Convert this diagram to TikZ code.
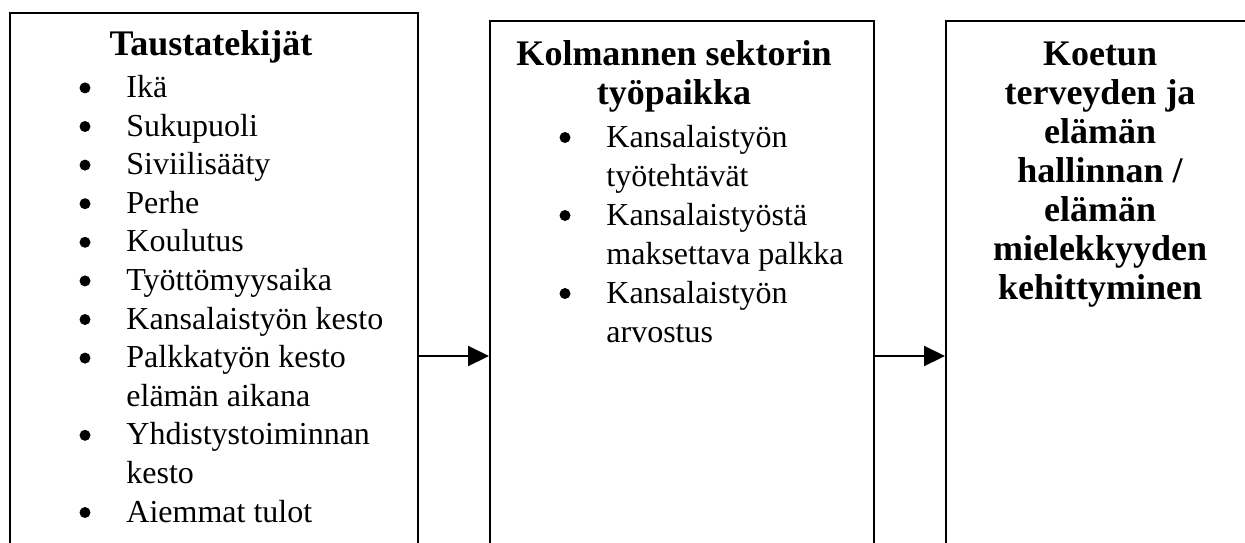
\documentclass[tikz,border=0pt]{standalone}
\usepackage{fontspec}
\setmainfont{Liberation Serif}
\usetikzlibrary{arrows.meta}

\begin{document}
\begin{tikzpicture}[x=0.5pt, y=-0.5pt, box/.style={draw, rectangle, line width=1pt, minimum height=300pt, anchor=north west}, head/.style={font=\fontsize{18}{19.5}\selectfont\bfseries, inner sep=0pt, anchor=base}, item/.style={font=\fontsize{16}{19.5}\selectfont, inner sep=0pt, anchor=base west}, conn/.style={-{Triangle[length=10.5pt, width=10pt]}, line width=1pt}]
        \useasboundingbox (0,0) rectangle (1245,542);
        \clip (0,0) rectangle (1245,542);
        % boxes
        \node[box, minimum width=204pt] (bg) at (9,12) {};
        \node[box, minimum width=192pt] (tp) at (489,20) {};
        \node[box, minimum width=200pt] (kh) at (945,20) {};
        % headings
        \node[head] (bgh) at (211,55) {Taustatekijät};
        \foreach \t [count=\i] in {Kolmannen sektorin, työpaikka}
            \node[head] (tph\i) at (674,26+39*\i) {\t};
        \foreach \t [count=\i] in {Koetun, terveyden ja, elämän, {hallinnan /}, elämän, mielekkyyden, kehittyminen}
            \node[head] (khh\i) at (1100,26+39*\i) {\t};
        % items
        \foreach \b/\t [count=\i] in {1/Ikä, 1/Sukupuoli, 1/Siviilisääty, 1/Perhe, 1/Koulutus, 1/Työttömyysaika, 1/Kansalaistyön kesto, 1/Palkkatyön kesto, 0/elämän aikana, 1/Yhdistystoiminnan, 0/kesto, 1/Aiemmat tulot}{
            \node[item] (bgi\i) at (126,58.8+38.6*\i) {\t};
            \ifnum\b=1 \fill (85,49.3+38.6*\i) circle[radius=2.75pt]; \fi
        }
        \foreach \b/\t [count=\i] in {1/Kansalaistyön, 0/työtehtävät, 1/Kansalaistyöstä, 0/maksettava palkka, 1/Kansalaistyön, 0/arvostus}{
            \node[item] (tpi\i) at (606,108+39*\i) {\t};
            \ifnum\b=1 \fill (565,98.5+39*\i) circle[radius=2.75pt]; \fi
        }
        % edges
        \coordinate (lvl) at (0,356);
        \draw[conn] (bg.east |- lvl) -- (tp.west |- lvl);
        \draw[conn] (tp.east |- lvl) -- (kh.west |- lvl);
    \end{tikzpicture}
\end{document}
